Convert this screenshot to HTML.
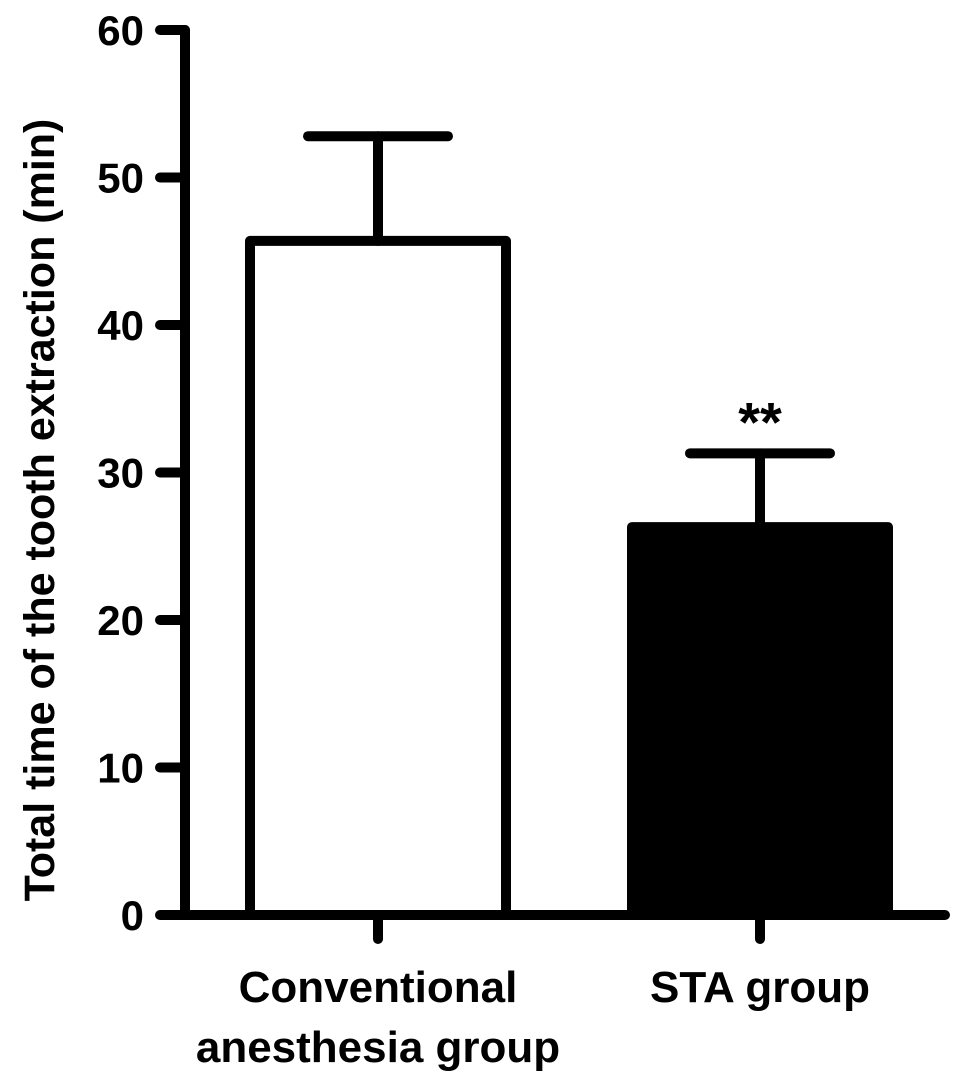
<!DOCTYPE html>
<html><head><meta charset="utf-8"><style>
html,body{margin:0;padding:0;background:#fff;}
svg{display:block;font-family:"Liberation Sans",Arial,sans-serif;font-weight:bold;}
</style></head><body>
<svg id="chart" width="969" height="1087" viewBox="0 0 969 1087" xmlns="http://www.w3.org/2000/svg"></svg>
<script>
const categories = ["Conventional|anesthesia group", "STA group"];
const means = [45.7, 26.3];
const errors = [7.1, 5.0];
const fills = ["#fff", "#000"];
const yTicks = [0, 10, 20, 30, 40, 50, 60];
const sigLabels = ["", "**"];

const svg = document.getElementById('chart');
const NS = 'http://www.w3.org/2000/svg';
const y0 = 915, yTop = 30, yMax = 60;
const y = v => y0 - (v / yMax) * (y0 - yTop);
const axisX = 185, axisEnd = 945;
const barCenters = [378, 760], barW = 266, capHalf = 70;
const x = i => barCenters[i];
function mk(tag, attrs){const e=document.createElementNS(NS,tag);for(const k in attrs)e.setAttribute(k,attrs[k]);svg.appendChild(e);return e;}
const S = {stroke:'#000','stroke-width':10,'stroke-linecap':'round',fill:'none'};

means.forEach((m,i)=>{
  const r = mk('rect',{x:x(i)-barW/2+5,y:y(m),width:barW-10,height:y0-y(m),fill:fills[i],stroke:'#000','stroke-width':10,'stroke-linejoin':'round'});
  
  
  const e = mk('line',Object.assign({x1:x(i),x2:x(i),y1:y(m),y2:y(m+errors[i])},S));
  
  
  const c = mk('line',Object.assign({x1:x(i)-capHalf,x2:x(i)+capHalf,y1:y(m+errors[i]),y2:y(m+errors[i])},S));
  
  
  if(sigLabels[i]){
    const t = mk('text',{x:x(i),y:y(m+errors[i])-12,'text-anchor':'middle','font-size':56});
    t.textContent = sigLabels[i];
    
    
  }
  const tk = mk('line',Object.assign({x1:x(i),x2:x(i),y1:y0,y2:y0+24},S));
  
  
  const lines = categories[i].split('|');
  lines.forEach((ln,j)=>{
    const t = mk('text',{x:x(i),y:1002+j*60,'text-anchor':'middle','font-size':44});
    t.textContent = ln;
    
    
  });
});

const ya = mk('line',Object.assign({x1:axisX,x2:axisX,y1:yTop,y2:y0},S));


const xa = mk('line',Object.assign({x1:axisX,x2:axisEnd,y1:y0,y2:y0},S));



yTicks.forEach(v=>{
  const l = mk('line',Object.assign({x1:160,x2:axisX,y1:y(v),y2:y(v)},S));
  
  
  const t = mk('text',{x:144,y:y(v)+15,'text-anchor':'end','font-size':42});
  t.textContent = v;
  
  
});

const title = mk('text',{x:0,y:0,'text-anchor':'middle','font-size':43,transform:'translate(54,510) rotate(-90)'});
title.textContent = 'Total time of the tooth extraction (min)';


</script>
</body></html>
